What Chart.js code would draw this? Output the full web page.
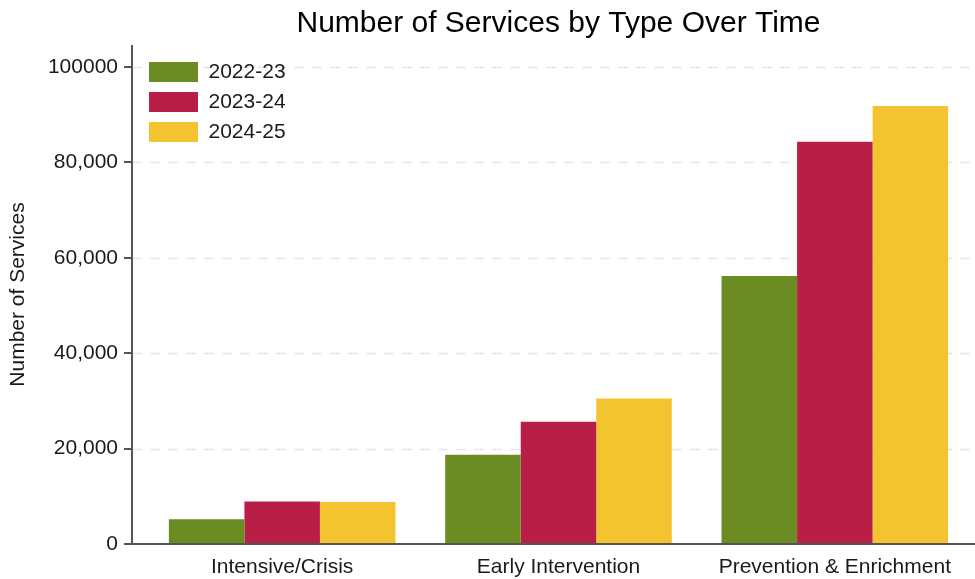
<!DOCTYPE html>
<html>
<head>
<meta charset="utf-8">
<script src="https://cdn.jsdelivr.net/npm/chart.js@4.4.1/dist/chart.umd.min.js"></script>
<style>
  html, body { margin: 0; padding: 0; background: #ffffff; }
  #wrap { width: 975px; height: 579px; position: relative; }
</style>
</head>
<body>
<div id="wrap"><canvas id="c" width="975" height="579"></canvas></div>
<script>
const chartTitle = 'Number of Services by Type Over Time';
const yAxisTitle = 'Number of Services';
const categories = ['Intensive/Crisis', 'Early Intervention', 'Prevention & Enrichment'];
const seriesNames = ['2022-23', '2023-24', '2024-25'];
const values2022 = [5200, 18700, 56200];
const values2023 = [8900, 25600, 84300];
const values2024 = [8800, 30500, 91800];
const seriesColors = ['#6B8C22', '#B91F46', '#F4C430'];
const yTickValues = [0, 20000, 40000, 60000, 80000, 100000];
const yTickLabels = ['0', '20,000', '40,000', '60,000', '80,000', '100000'];

const FONT = "'Liberation Sans', Arial, Helvetica, sans-serif";
const AXIS_OFFSET = 12;

const axesPlugin = {
  id: 'customAxes',
  afterLayout(chart) {
    const lg = chart.legend;
    if (lg) {
      const h = lg.bottom - lg.top;
      lg.top = chart.chartArea.top + 7.5;
      lg.bottom = lg.top + h;
      lg.left = chart.chartArea.left - 4;
    }
  },
  beforeDraw(chart) {
    const ctx = chart.ctx;
    const a = chart.chartArea;
    const y = chart.scales.y;
    const ax = a.left - AXIS_OFFSET;
    ctx.save();
    ctx.strokeStyle = '#e6e6e6';
    ctx.lineWidth = 1.5;
    ctx.setLineDash([10, 8]);
    y.ticks.forEach(t => {
      if (t.value === 0) return;
      const py = Math.round(y.getPixelForValue(t.value)) + 0.5;
      ctx.beginPath();
      ctx.moveTo(ax, py);
      ctx.lineTo(chart.width, py);
      ctx.stroke();
    });
    ctx.restore();
  },
  afterDatasetsDraw(chart) {
    const ctx = chart.ctx;
    const a = chart.chartArea;
    const y = chart.scales.y;
    const ax = a.left - AXIS_OFFSET;
    ctx.save();
    ctx.strokeStyle = '#555555';
    ctx.lineWidth = 2;
    ctx.beginPath();
    ctx.moveTo(ax, a.top);
    ctx.lineTo(ax, a.bottom);
    ctx.moveTo(ax, a.bottom);
    ctx.lineTo(chart.width, a.bottom);
    y.ticks.forEach(t => {
      const py = Math.round(y.getPixelForValue(t.value));
      ctx.moveTo(ax - 8, py);
      ctx.lineTo(ax, py);
    });
    ctx.stroke();
    ctx.fillStyle = '#000000';
    ctx.font = '30px ' + FONT;
    ctx.textAlign = 'center';
    ctx.textBaseline = 'middle';
    ctx.fillText(chartTitle, (a.left + a.right) / 2, 24);
    ctx.restore();
  }
};

new Chart(document.getElementById('c'), {
  type: 'bar',
  data: {
    labels: categories,
    datasets: [
      { label: seriesNames[0], data: values2022, backgroundColor: seriesColors[0] },
      { label: seriesNames[1], data: values2023, backgroundColor: seriesColors[1] },
      { label: seriesNames[2], data: values2024, backgroundColor: seriesColors[2] }
    ]
  },
  options: {
    responsive: false,
    animation: false,
    layout: { padding: { top: 45, right: 2, left: 0, bottom: 0 } },
    datasets: { bar: { categoryPercentage: 0.82, barPercentage: 1.0, borderWidth: 0 } },
    plugins: {
      title: { display: false },
      tooltip: { enabled: false },
      legend: {
        position: 'chartArea',
        align: 'start',
        labels: {
          boxWidth: 49,
          boxHeight: 20,
          padding: 9,
          color: '#1a1a1a',
          font: { family: FONT, size: 21 }
        }
      }
    },
    scales: {
      x: {
        grid: { display: false, drawTicks: false },
        border: { display: false },
        ticks: { color: '#1a1a1a', padding: 11, font: { family: FONT, size: 21 }, maxRotation: 0 },
        afterFit(s) { s.height = 35; }
      },
      y: {
        min: 0,
        max: 104600,
        grid: { display: false, drawTicks: true, tickLength: 20 },
        border: { display: false },
        afterBuildTicks(s) { s.ticks = yTickValues.map(v => ({ value: v })); },
        ticks: {
          color: '#1a1a1a',
          padding: 6,
          font: { family: FONT, size: 21 },
          callback: (v, i) => yTickLabels[i]
        },
        title: {
          display: true,
          text: yAxisTitle,
          color: '#1a1a1a',
          font: { family: FONT, size: 21 },
          padding: { top: 6, bottom: 0 }
        },
        afterFit(s) { s.width = 144; }
      }
    }
  },
  plugins: [axesPlugin]
});
</script>
</body>
</html>
